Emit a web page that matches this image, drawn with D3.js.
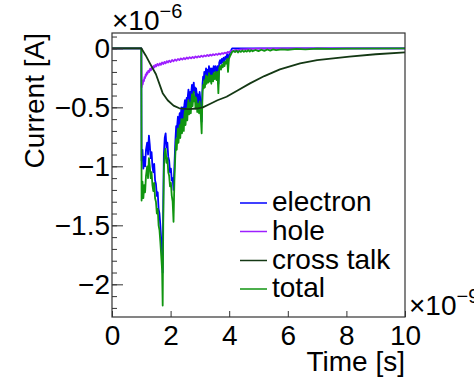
<!DOCTYPE html>
<html>
<head>
<meta charset="utf-8">
<script src="https://cdn.jsdelivr.net/npm/d3@7"></script>
<style>
  body { margin: 0; background: #fff; }
  svg { display: block; font-family: "Liberation Sans", Arial, Helvetica, sans-serif; }
</style>
</head>
<body>
<svg id="chart" width="474" height="378"></svg>
<script>
// time in ns (x 1e-9 s), current in uA (x 1e-6 A)
var electron = [
  [0, 0], [1.0, 0], [1.01, -0.95], [1.04, -0.86], [1.07, -1.02], [1.1, -0.92], [1.13, -1.0], [1.16, -0.86],
  [1.2, -0.8], [1.23, -0.9], [1.26, -0.74], [1.29, -0.82], [1.32, -0.93], [1.35, -0.88], [1.38, -1.0],
  [1.41, -1.05], [1.44, -0.98], [1.47, -1.12], [1.5, -1.15], [1.53, -1.25], [1.56, -1.22], [1.59, -1.36],
  [1.62, -1.4], [1.65, -1.5], [1.68, -1.62], [1.71, -1.72], [1.73, -1.9], [1.75, -1.3], [1.77, -0.9],
  [1.8, -0.76], [1.83, -0.72], [1.86, -0.84], [1.89, -0.8], [1.92, -0.92], [1.95, -0.95], [1.98, -1.05],
  [2.01, -1.02], [2.04, -1.12], [2.07, -1.1], [2.1, -1.2], [2.13, -1.0], [2.16, -0.8], [2.19, -0.66],
  [2.21, -0.75], [2.23, -0.64], [2.25, -0.58], [2.27, -0.7], [2.29, -0.6], [2.31, -0.55], [2.33, -0.66],
  [2.35, -0.56], [2.37, -0.5], [2.39, -0.62], [2.41, -0.55], [2.43, -0.5], [2.45, -0.6], [2.47, -0.48],
  [2.49, -0.44], [2.51, -0.56], [2.53, -0.47], [2.55, -0.42], [2.57, -0.52], [2.59, -0.4], [2.61, -0.35],
  [2.63, -0.47], [2.65, -0.4], [2.67, -0.37], [2.69, -0.46], [2.71, -0.36], [2.73, -0.31], [2.75, -0.41],
  [2.77, -0.34], [2.79, -0.29], [2.81, -0.37], [2.83, -0.33], [2.85, -0.43], [2.87, -0.34], [2.89, -0.38],
  [2.91, -0.46], [2.93, -0.39], [2.95, -0.42], [2.97, -0.47], [2.99, -0.37], [3.01, -0.42], [3.03, -0.5],
  [3.06, -0.62], [3.09, -0.3], [3.11, -0.24], [3.13, -0.27], [3.15, -0.2], [3.17, -0.26], [3.19, -0.22],
  [3.21, -0.17], [3.23, -0.24], [3.25, -0.2], [3.27, -0.18], [3.29, -0.23], [3.31, -0.15], [3.33, -0.22],
  [3.35, -0.17], [3.37, -0.2], [3.39, -0.24], [3.41, -0.17], [3.43, -0.2], [3.45, -0.22], [3.47, -0.15],
  [3.49, -0.19], [3.51, -0.2], [3.53, -0.15], [3.55, -0.19], [3.57, -0.22], [3.6, -0.15], [3.63, -0.3],
  [3.66, -0.12], [3.69, -0.1], [3.72, -0.13], [3.75, -0.09], [3.78, -0.12], [3.81, -0.08], [3.84, -0.11],
  [3.87, -0.07], [3.9, -0.09], [3.93, -0.05], [3.96, -0.12], [3.99, -0.06], [4.02, -0.04], [4.06, -0.02],
  [4.1, 0], [10, 0]
];

var hole = [
  [0, 0], [1.0, 0], [1.01, -0.33], [1.03, -0.3], [1.05, -0.305], [1.07, -0.27], [1.09, -0.278], [1.11, -0.245],
  [1.13, -0.252], [1.15, -0.22], [1.17, -0.232], [1.19, -0.205], [1.21, -0.216], [1.24, -0.19], [1.27, -0.2],
  [1.3, -0.172], [1.33, -0.186], [1.36, -0.16], [1.39, -0.173], [1.42, -0.15], [1.45, -0.163], [1.48, -0.14],
  [1.51, -0.153], [1.55, -0.132], [1.59, -0.146], [1.63, -0.127], [1.67, -0.14], [1.71, -0.12], [1.75, -0.133],
  [1.79, -0.115], [1.83, -0.127], [1.87, -0.108], [1.91, -0.12], [1.95, -0.104], [2.0, -0.116], [2.05, -0.098],
  [2.1, -0.11], [2.15, -0.094], [2.2, -0.105], [2.25, -0.09], [2.3, -0.1], [2.35, -0.085], [2.4, -0.096],
  [2.45, -0.082], [2.5, -0.092], [2.55, -0.078], [2.6, -0.088], [2.65, -0.075], [2.7, -0.085], [2.75, -0.072],
  [2.8, -0.082], [2.85, -0.069], [2.9, -0.078], [2.95, -0.066], [3.0, -0.075], [3.05, -0.062], [3.1, -0.072],
  [3.15, -0.06], [3.2, -0.068], [3.25, -0.056], [3.3, -0.065], [3.35, -0.053], [3.4, -0.062], [3.45, -0.05],
  [3.5, -0.058], [3.55, -0.047], [3.6, -0.055], [3.65, -0.044], [3.7, -0.052], [3.75, -0.04], [3.8, -0.047],
  [3.85, -0.036], [3.9, -0.043], [3.95, -0.03], [4.0, -0.036], [4.05, -0.022], [4.1, -0.026], [4.2, -0.014],
  [4.3, -0.016], [4.4, -0.008], [4.6, -0.006], [5.0, -0.002], [6, -0.001], [10, 0]
];

var crossTalk = [
  [0, 0], [1.0, 0], [1.15, -0.06], [1.3, -0.13], [1.5, -0.22], [1.73, -0.38], [1.9, -0.44], [2.1, -0.485],
  [2.3, -0.508], [2.6, -0.515], [2.9, -0.51], [3.1, -0.5], [3.34, -0.472], [3.6, -0.44], [3.91, -0.41],
  [4.3, -0.355], [4.71, -0.297], [5.2, -0.235], [5.73, -0.178], [6.42, -0.127], [7.0, -0.1], [8.1, -0.071],
  [9.0, -0.05], [10, -0.034]
];

var total = [
  [0, 0], [1.0, 0], [1.01, -1.29], [1.04, -1.13], [1.07, -1.27], [1.1, -1.16], [1.13, -1.22], [1.16, -1.08],
  [1.2, -1.0], [1.23, -1.1], [1.26, -0.93], [1.29, -1.0], [1.32, -1.1], [1.35, -1.05], [1.38, -1.16],
  [1.41, -1.21], [1.44, -1.14], [1.47, -1.27], [1.5, -1.3], [1.53, -1.4], [1.56, -1.36], [1.59, -1.5],
  [1.62, -1.54], [1.65, -1.64], [1.68, -1.76], [1.71, -1.88], [1.73, -2.18], [1.75, -1.45], [1.77, -1.03],
  [1.8, -0.88], [1.83, -0.85], [1.86, -0.97], [1.89, -0.93], [1.92, -1.05], [1.95, -1.08], [1.98, -1.17],
  [2.01, -1.14], [2.04, -1.25], [2.07, -1.3], [2.1, -1.47], [2.13, -1.12], [2.16, -0.91], [2.19, -0.77],
  [2.21, -0.86], [2.23, -0.75], [2.25, -0.68], [2.27, -0.8], [2.29, -0.7], [2.31, -0.65], [2.33, -0.76],
  [2.35, -0.66], [2.37, -0.6], [2.39, -0.72], [2.41, -0.65], [2.43, -0.6], [2.45, -0.7], [2.47, -0.57],
  [2.49, -0.53], [2.51, -0.65], [2.53, -0.56], [2.55, -0.51], [2.57, -0.61], [2.59, -0.49], [2.61, -0.44],
  [2.63, -0.56], [2.65, -0.49], [2.67, -0.46], [2.69, -0.55], [2.71, -0.45], [2.73, -0.39], [2.75, -0.49],
  [2.77, -0.42], [2.79, -0.37], [2.81, -0.45], [2.83, -0.41], [2.85, -0.51], [2.87, -0.42], [2.89, -0.46],
  [2.91, -0.54], [2.93, -0.47], [2.95, -0.5], [2.97, -0.55], [2.99, -0.45], [3.01, -0.5], [3.03, -0.57],
  [3.06, -0.72], [3.09, -0.37], [3.11, -0.31], [3.13, -0.34], [3.15, -0.27], [3.17, -0.33], [3.19, -0.29],
  [3.21, -0.23], [3.23, -0.3], [3.25, -0.26], [3.27, -0.24], [3.29, -0.29], [3.31, -0.21], [3.33, -0.28],
  [3.35, -0.23], [3.37, -0.26], [3.39, -0.3], [3.41, -0.23], [3.43, -0.26], [3.45, -0.28], [3.47, -0.21],
  [3.49, -0.25], [3.51, -0.26], [3.53, -0.2], [3.55, -0.24], [3.57, -0.27], [3.6, -0.2], [3.63, -0.38],
  [3.66, -0.17], [3.69, -0.15], [3.72, -0.18], [3.75, -0.14], [3.78, -0.16], [3.81, -0.12], [3.84, -0.15],
  [3.87, -0.11], [3.9, -0.13], [3.93, -0.09], [3.96, -0.2], [3.99, -0.09], [4.02, -0.07], [4.06, -0.05],
  [4.1, -0.03], [4.15, -0.022], [4.2, -0.032], [4.25, -0.02], [4.3, -0.035], [4.35, -0.022], [4.4, -0.03],
  [4.45, -0.018], [4.5, -0.03], [4.55, -0.02], [4.6, -0.028], [4.65, -0.016], [4.7, -0.028], [4.75, -0.015],
  [4.8, -0.025], [4.9, -0.014], [5.0, -0.024], [5.1, -0.012], [5.2, -0.022], [5.3, -0.01], [5.4, -0.019],
  [5.5, -0.009], [5.6, -0.016], [5.8, -0.008], [6.0, -0.012], [6.3, -0.005], [6.6, -0.008], [7.0, -0.003],
  [7.5, -0.004], [8, -0.002], [10, -0.001]
];

var xTicks = [0, 2, 4, 6, 8, 10];
var xTickLabels = ["0", "2", "4", "6", "8", "10"];
var yTicks = [0, -0.5, -1, -1.5, -2];
var yTickLabels = ["0", "\u22120.5", "\u22121", "\u22121.5", "\u22122"];
var yMinorTicks = d3.range(-22, 2).map(d => d / 10);

var legendNames = ["electron", "hole", "cross talk", "total"];
var colors = ["#0000ff", "#9d1fff", "#143814", "#109510"];

var svg = d3.select("#chart");
var frameLeft = 112, frameRight = 405, frameTop = 33, frameBottom = 317;

var x = d3.scaleLinear().domain([0, 10]).range([frameLeft, frameRight]);
var y = d3.scaleLinear().domain([-2.277, 0.13]).range([frameBottom, frameTop]);

var line = d3.line()
  .x(d => x(d[0]))
  .y(d => y(d[1]));

// draw order: electron, hole, total, cross talk
var series = [electron, hole, total, crossTalk];
var seriesColors = [colors[0], colors[1], colors[3], colors[2]];
series.forEach(function (s, i) {
  svg.append("path")
    .datum(s)
    .attr("fill", "none")
    .attr("stroke", seriesColors[i])
    .attr("stroke-width", 1.8)
    .attr("stroke-linejoin", "round")
    .attr("d", line);
});

// frame
svg.append("rect")
  .attr("x", frameLeft).attr("y", frameTop)
  .attr("width", frameRight - frameLeft).attr("height", frameBottom - frameTop)
  .attr("fill", "none").attr("stroke", "#333").attr("stroke-width", 1.2);

var xAxis = d3.axisBottom(x).tickValues(xTicks).tickSize(-6).tickPadding(8)
  .tickFormat((d, i) => xTickLabels[i]);
var gx = svg.append("g").attr("transform", "translate(0," + frameBottom + ")").call(xAxis);

var yMinor = d3.axisLeft(y).tickValues(yMinorTicks).tickSize(-5).tickFormat("");
var gym = svg.append("g").attr("transform", "translate(" + frameLeft + ",0)").call(yMinor);

var yAxis = d3.axisLeft(y).tickValues(yTicks).tickSize(-11).tickPadding(2)
  .tickFormat((d, i) => yTickLabels[i]);
var gy = svg.append("g").attr("transform", "translate(" + frameLeft + ",0)").call(yAxis);

[gx, gy, gym].forEach(function (g) {
  g.select(".domain").remove();
  g.selectAll(".tick line").attr("stroke", "#333");
  g.selectAll("text")
    .attr("font-family", "Liberation Sans, Arial, sans-serif")
    .attr("font-size", 28)
    .attr("fill", "#000");
});

// axis titles
svg.append("text")
  .attr("x", frameRight).attr("y", 371)
  .attr("text-anchor", "end")
  .attr("font-size", 28)
  .text("Time [s]");

svg.append("text")
  .attr("transform", "translate(44," + frameTop + ") rotate(-90)")
  .attr("text-anchor", "end")
  .attr("font-size", 28)
  .text("Current [A]");

// exponents
function exponent(px, py, exp) {
  var t = svg.append("text").attr("x", px).attr("y", py).attr("font-size", 28);
  t.append("tspan").text("\u00d710");
  t.append("tspan").attr("font-size", 20).attr("dy", -12).text(exp);
}
exponent(112, 30, "\u22126");
exponent(409, 315, "\u22129");

// legend
var legend = svg.append("g");
var rowY = [203, 231.5, 260.5, 289];
legendNames.forEach(function (name, i) {
  legend.append("line")
    .attr("x1", 240).attr("x2", 267)
    .attr("y1", rowY[i]).attr("y2", rowY[i])
    .attr("stroke", colors[i]).attr("stroke-width", 1.5);
  legend.append("text")
    .attr("x", 272).attr("y", rowY[i] + 8)
    .attr("font-size", 28)
    .text(name);
});
</script>
</body>
</html>
